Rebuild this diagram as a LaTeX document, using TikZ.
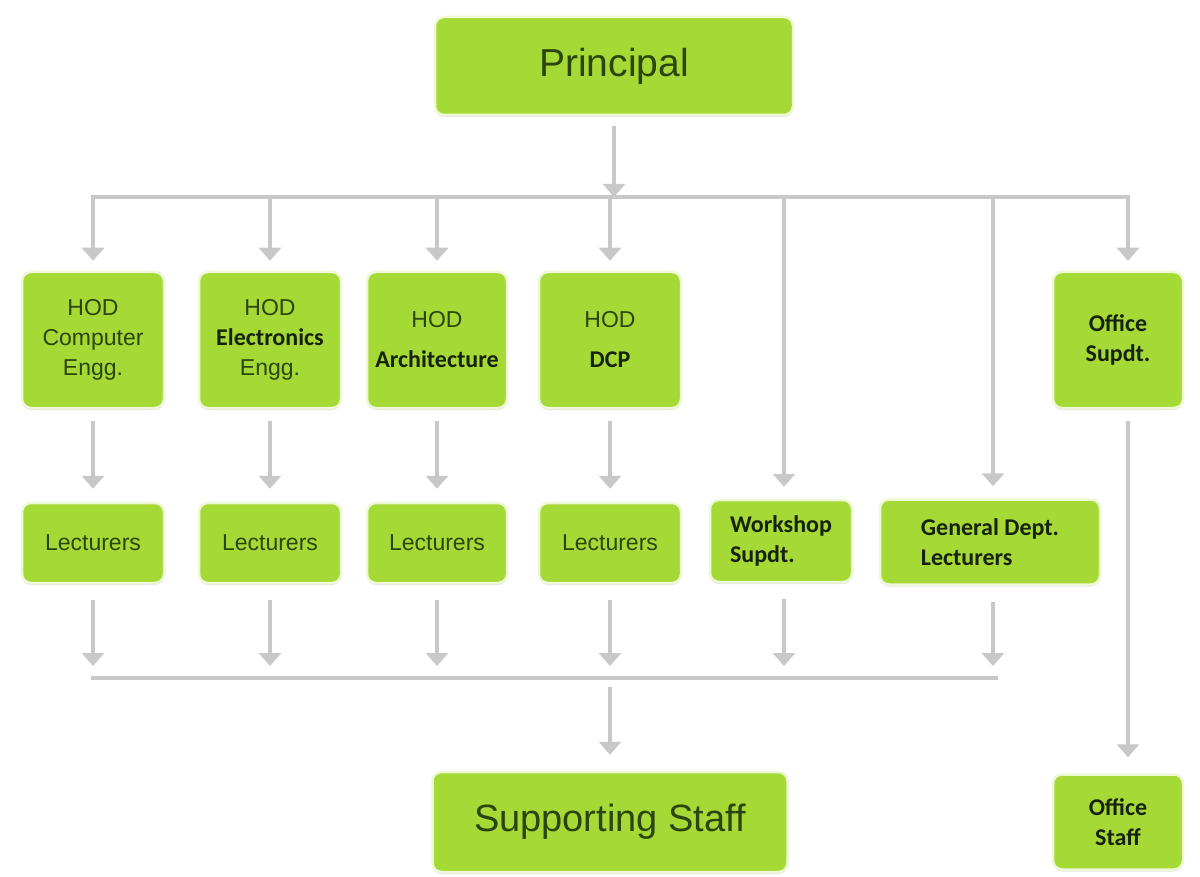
\documentclass[tikz,border=0pt]{standalone}
\usepackage{fontspec}
\setmainfont{Liberation Sans}
\newfontfamily\calfnt{Carlito}
\usetikzlibrary{arrows.meta,shadows}
\definecolor{boxgreen}{HTML}{A4D936}
\definecolor{boxedge}{HTML}{EEF8D4}
\definecolor{txtgreen}{HTML}{2A460E}
\definecolor{txtdark}{HTML}{16220A}
\definecolor{arrgray}{HTML}{C8C8C8}
\newcommand{\cb}[1]{{\calfnt\bfseries\fontsize{24}{30}\selectfont\color{txtdark}#1}}
\tikzset{
  box/.style={rounded corners=9pt, fill=boxgreen, draw=boxedge, line width=2.5pt,
    drop shadow={shadow xshift=0pt, shadow yshift=-2pt, opacity=0.22},
    text=txtgreen, inner sep=0pt, align=center, font=\fontsize{23}{30}\selectfont},
  arr/.style={draw=arrgray, line width=4pt, -{Triangle[length=13pt,width=22pt]}},
  busline/.style={draw=arrgray, line width=4pt}
}
\begin{document}
\begin{tikzpicture}[x=1pt,y=-1pt]
\useasboundingbox (0,0) rectangle (1200,877);
% top
\node[box, minimum width=358, minimum height=98, font=\fontsize{39}{44}\selectfont] (principal) at (614,66) {Principal};
% HOD row
\node[box, minimum width=142, minimum height=136] (hodA) at (93,340) {HOD\\Computer\\Engg.};
\node[box, minimum width=142, minimum height=136] (hodB) at (270,340) {HOD\\\cb{Electronics}\\Engg.};
\node[box, minimum width=140, minimum height=136] (hodC) at (437,340) {HOD\\[10pt]\cb{Architecture}};
\node[box, minimum width=142, minimum height=136] (hodD) at (610,340) {HOD\\[10pt]\cb{DCP}};
\node[box, minimum width=130, minimum height=136] (ofs) at (1118,340) {\cb{Office}\\\cb{Supdt.}};
% lecturers row
\node[box, minimum width=142, minimum height=80] (lecA) at (93,543) {Lecturers};
\node[box, minimum width=142, minimum height=80] (lecB) at (270,543) {Lecturers};
\node[box, minimum width=140, minimum height=80] (lecC) at (437,543) {Lecturers};
\node[box, minimum width=142, minimum height=80] (lecD) at (610,543) {Lecturers};
\node[box, minimum width=142, minimum height=82, align=left] (work) at (781,541) {\cb{Workshop}\\\cb{Supdt.}};
\node[box, minimum width=220, minimum height=85, align=left] (gen) at (990,542) {\cb{General Dept.}\\\cb{Lecturers}};
% bottom
\node[box, minimum width=355, minimum height=100, font=\fontsize{38}{44}\selectfont] (supp) at (610,822) {Supporting Staff};
\node[box, minimum width=130, minimum height=95] (ofst) at (1118,822) {\cb{Office}\\\cb{Staff}};
% buses
\coordinate (bt) at (0,197);
\coordinate (bb) at (0,678);
\draw[arr, shorten <=10pt] (principal.south) -- (principal.south |- bt);
\draw[busline] ([xshift=-2pt]hodA.north |- bt) -- ([xshift=12pt]ofs.north |- bt);
\foreach \n in {hodA,hodB,hodC,hodD}{
  \draw[arr, shorten >=10pt] (\n.north |- bt) -- (\n.north);
}
\draw[arr, shorten >=10pt] ([xshift=10pt]ofs.north |- bt) -- ([xshift=10pt]ofs.north);
\foreach \n in {work,gen}{
  \draw[arr, shorten >=12pt] ([xshift=3pt]\n.north |- bt) -- ([xshift=3pt]\n.north);
}
\draw[arr, shorten <=12pt, shorten >=13pt] (hodA.south) -- (lecA.north);
\draw[arr, shorten <=12pt, shorten >=13pt] (hodB.south) -- (lecB.north);
\draw[arr, shorten <=12pt, shorten >=13pt] (hodC.south) -- (lecC.north);
\draw[arr, shorten <=12pt, shorten >=13pt] (hodD.south) -- (lecD.north);
\foreach \n in {lecA,lecB,lecC,lecD}{
  \draw[arr, shorten <=16pt, shorten >=12pt] (\n.south) -- (\n.south |- bb);
}
\foreach \n in {work,gen}{
  \draw[arr, shorten <=16pt, shorten >=12pt] ([xshift=3pt]\n.south) -- ([xshift=3pt]\n.south |- bb);
}
\draw[busline] ([xshift=-2pt]lecA.south |- bb) -- ([xshift=8pt]gen.south |- bb);
\draw[arr, shorten <=9pt, shorten >=16pt] (supp.north |- bb) -- (supp.north);
\draw[arr, shorten <=12pt, shorten >=16pt] ([xshift=10pt]ofs.south) -- ([xshift=10pt]ofst.north);
\end{tikzpicture}
\end{document}
